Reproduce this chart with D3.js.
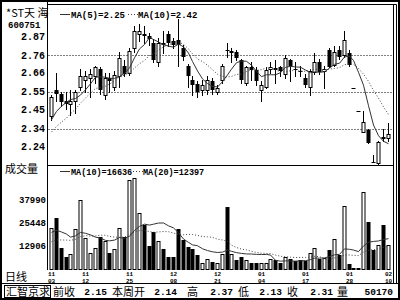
<!DOCTYPE html>
<html>
<head>
<meta charset="utf-8">
<script src="https://cdnjs.cloudflare.com/ajax/libs/d3/7.8.5/d3.min.js"></script>
<style>
body { margin: 0; background: #fff; }
svg { display: block; }
text { font-family: "Liberation Mono", "DejaVu Sans Mono", monospace; font-weight: bold; fill: #000; }
text.cjk { font-family: "Noto Sans CJK SC", sans-serif; font-weight: normal; }
</style>
</head>
<body>
<svg width="400" height="300"></svg>
<script>
var stockName = "*ST天 海";
var stockCode = "600751";

// daily candles
var opens  = [2.41,2.56,2.54,2.50,2.48,2.50,2.58,2.62,2.63,2.64,2.68,2.53,2.63,2.58,2.64,2.70,2.66,2.80,2.88,2.88,
              2.87,2.83,2.72,2.83,2.88,2.84,2.845,2.80,2.70,2.62,2.595,2.56,2.56,2.61,2.55,2.62,2.79,2.78,2.78,2.73,
              2.60,2.69,2.675,2.56,2.58,2.68,2.685,2.69,2.65,2.73,2.68,2.67,2.63,2.58,2.665,2.72,2.67,2.79,2.705,2.79,
              2.76,2.775,2.57,2.44,2.32,2.33,2.15,2.14,2.29,2.285];
var highs  = [2.53,2.66,2.55,2.55,2.56,2.56,2.68,2.67,2.68,2.70,2.69,2.66,2.66,2.67,2.78,2.73,2.80,2.93,2.94,2.93,
              2.89,2.85,2.86,2.90,2.90,2.86,2.97,2.82,2.71,2.64,2.61,2.62,2.64,2.63,2.59,2.71,2.83,2.80,2.79,2.74,
              2.70,2.72,2.69,2.61,2.69,2.72,2.73,2.70,2.76,2.74,2.72,2.70,2.65,2.68,2.77,2.74,2.70,2.80,2.81,2.81,
              2.90,2.79,2.57,2.44,2.44,2.34,2.19,2.27,2.34,2.37];
var lows   = [2.39,2.50,2.47,2.45,2.42,2.43,2.56,2.55,2.52,2.60,2.54,2.51,2.55,2.56,2.58,2.64,2.645,2.78,2.84,2.83,
              2.82,2.72,2.70,2.77,2.81,2.80,2.70,2.73,2.58,2.53,2.52,2.53,2.54,2.54,2.54,2.60,2.75,2.72,2.73,2.60,
              2.59,2.62,2.59,2.50,2.57,2.66,2.60,2.64,2.63,2.61,2.64,2.64,2.58,2.53,2.65,2.65,2.57,2.69,2.70,2.74,
              2.75,2.70,2.57,2.44,2.32,2.26,2.15,2.13,2.27,2.27];
var closes = [2.52,2.54,2.49,2.48,2.50,2.55,2.64,2.64,2.65,2.69,2.56,2.63,2.61,2.645,2.745,2.65,2.785,2.90,2.90,2.87,
              2.85,2.73,2.83,2.82,2.83,2.82,2.82,2.75,2.64,2.59,2.55,2.59,2.62,2.56,2.57,2.70,2.785,2.785,2.745,2.62,
              2.69,2.675,2.61,2.59,2.675,2.69,2.675,2.67,2.745,2.70,2.675,2.665,2.59,2.67,2.72,2.665,2.68,2.695,2.78,2.75,
              2.845,2.705,2.57,2.44,2.38,2.26,2.15,2.265,2.28,2.31];
var volumes = [22500,27600,11600,6800,8300,22000,37600,17200,9000,11800,17500,15200,9000,10800,22300,17500,48300,49200,30500,24100,
               12500,20000,15200,11100,6800,6800,21600,15700,12200,10800,7900,3600,5600,4200,3300,8600,33500,8300,5100,6500,
               5100,3300,3600,3600,3600,5400,5100,3600,6800,5600,4500,5100,4500,9000,11500,5600,6300,10500,16500,8080,
               34000,2800,600,600,42000,25690,10500,13000,24000,13170];
// days before the window, only used to seed the moving averages
var prevCloses = [2.22,2.24,2.25,2.26,2.28,2.30,2.34,2.37,2.42];
var prevVolumes = [9000,12000,8000,11000,10500,9500,7000,12500,10000,10500,
                   16000,21000,18000,25000,15000,19000,22000,17500,24000];

var tickIndex = [0,7,16,25,34,43,52,61,69];
var tickMonth = ["11","11","11","12","12","01","01","01","02"];
var tickDay   = ["03","12","25","08","21","04","17","28","10"];
var priceTicks = [2.24,2.34,2.45,2.55,2.66,2.76,2.87];
var priceGrid = [2.34,2.55,2.76];
var volTicks = [12906,25448,37990];

var summaryLabels = ["前收","本周开","高","低","收","量"];
var summaryValues = ["2.15","2.14","2.37","2.13","2.31","50170"];

var svg = d3.select("svg");
var n = closes.length;
var L = 47.5, R = 393.5;

var x = d3.scaleBand().domain(d3.range(n)).range([48.5, 390]);
function cx(i) { return Math.round(x(i) + x.bandwidth() / 2); }
var y = d3.scaleLinear().domain([2.24, 2.87]).range([146, 36]);
var vy = d3.scaleLinear().domain([0, 37990]).range([269.5, 199]);

function ma(vals, prev, k) {
    var all = prev.concat(vals);
    return vals.map(function(v, i) {
        var j = i + prev.length;
        return d3.mean(all.slice(j - k + 1, j + 1));
    });
}
var ma5 = ma(closes, prevCloses, 5);
var ma10 = ma(closes, prevCloses, 10);
var vma10 = ma(volumes, prevVolumes, 10);
var vma20 = ma(volumes, prevVolumes, 20);

function isDown(i) {
    if (closes[i] < opens[i]) return true;
    if (closes[i] > opens[i]) return false;
    var pc = i > 0 ? closes[i - 1] : prevCloses[prevCloses.length - 1];
    return closes[i] < pc;
}

// frame
svg.append("rect").attr("x", 1).attr("y", 1).attr("width", 398).attr("height", 298)
    .attr("fill", "none").attr("stroke", "#000").attr("stroke-width", 2);
svg.append("path").attr("d", "M" + L + ",4.5H396.5V283")
    .attr("fill", "none").attr("stroke", "#000");
svg.append("line").attr("x1", R).attr("x2", R).attr("y1", 4.5).attr("y2", 283).attr("stroke", "#000");
svg.append("line").attr("x1", L).attr("x2", L).attr("y1", 1).attr("y2", 270).attr("stroke", "#000");
svg.append("line").attr("x1", L).attr("x2", R).attr("y1", 165.5).attr("y2", 165.5).attr("stroke", "#000");
svg.append("line").attr("x1", 1).attr("x2", 399).attr("y1", 283.5).attr("y2", 283.5).attr("stroke", "#000");

// price grid
svg.append("g").selectAll("line").data(priceGrid).enter().append("line")
    .attr("x1", L + 1).attr("x2", R - 1)
    .attr("y1", function(d) { return Math.round(y(d)) + 0.5; })
    .attr("y2", function(d) { return Math.round(y(d)) + 0.5; })
    .attr("stroke", "#000").attr("stroke-dasharray", "1,2");

// price axis labels
svg.append("g").selectAll("text").data(priceTicks).enter().append("text")
    .attr("x", 45).attr("y", function(d) { return y(d) + 3.5; })
    .attr("text-anchor", "end").style("font-size", "10px")
    .text(function(d) { return d.toFixed(2); });

svg.append("text").attr("class", "cjk").attr("x", 6).attr("y", 17).style("font-size", "11px").text(stockName);
svg.append("text").attr("x", 8).attr("y", 28).style("font-size", "9px").text(stockCode);

// candles
var price = svg.append("g");
price.selectAll("line").data(d3.range(n)).enter().append("line")
    .attr("x1", function(i) { return cx(i) + 0.5; })
    .attr("x2", function(i) { return cx(i) + 0.5; })
    .attr("y1", function(i) { return Math.round(y(highs[i])); })
    .attr("y2", function(i) { return Math.round(y(lows[i])) + 1; })
    .attr("stroke", "#000");
price.selectAll("rect").data(d3.range(n)).enter().append("rect")
    .attr("x", function(i) { return isDown(i) ? cx(i) - 1.5 : cx(i) - 1; })
    .attr("y", function(i) {
        var t = Math.round(y(Math.max(opens[i], closes[i])));
        return isDown(i) ? t : t + 0.5;
    })
    .attr("width", function(i) { return isDown(i) ? 4 : 3; })
    .attr("height", function(i) {
        var h = Math.round(y(Math.min(opens[i], closes[i]))) - Math.round(y(Math.max(opens[i], closes[i])));
        return isDown(i) ? Math.max(1, h) : Math.max(0, h);
    })
    .attr("fill", function(i) { return isDown(i) ? "#000" : "#fff"; })
    .attr("stroke", function(i) { return isDown(i) ? "none" : "#000"; });

var line = d3.line().x(function(d, i) { return cx(i) + 0.5; });
svg.append("path").datum(ma10)
    .attr("d", line.y(function(d) { return y(d); }))
    .attr("fill", "none").attr("stroke", "#444").attr("stroke-dasharray", "1,2");
svg.append("path").datum(ma5)
    .attr("d", line.y(function(d) { return y(d); }))
    .attr("fill", "none").attr("stroke", "#333");

// price legend
svg.append("line").attr("x1", 60).attr("x2", 70).attr("y1", 14.5).attr("y2", 14.5).attr("stroke", "#333");
svg.append("text").attr("x", 71).attr("y", 18).style("font-size", "9px")
    .text("MA(5)=" + ma5[n - 1].toFixed(2));
svg.append("line").attr("x1", 128).attr("x2", 138).attr("y1", 14.5).attr("y2", 14.5)
    .attr("stroke", "#444").attr("stroke-dasharray", "1,2");
svg.append("text").attr("x", 138).attr("y", 18).style("font-size", "9px")
    .text("MA(10)=" + ma10[n - 1].toFixed(2));

// volume panel
svg.append("text").attr("class", "cjk").attr("x", 5).attr("y", 173).style("font-size", "11px").text("成交量");
svg.append("g").selectAll("text").data(volTicks).enter().append("text")
    .attr("x", 46).attr("y", function(d) { return vy(d) + 3.5; })
    .attr("text-anchor", "end").style("font-size", "9px")
    .text(function(d) { return d; });

svg.append("g").selectAll("rect").data(d3.range(n)).enter().append("rect")
    .attr("x", function(i) { return isDown(i) ? cx(i) - 1.5 : cx(i) - 1; })
    .attr("y", function(i) { return Math.round(vy(volumes[i])) + (isDown(i) ? 0 : 0.5); })
    .attr("width", function(i) { return isDown(i) ? 4 : 3; })
    .attr("height", function(i) { return Math.max(1, 270 - Math.round(vy(volumes[i])) - (isDown(i) ? 0 : 1)); })
    .attr("fill", function(i) { return isDown(i) ? "#000" : "#fff"; })
    .attr("stroke", function(i) { return isDown(i) ? "none" : "#000"; });

svg.append("path").datum(vma20)
    .attr("d", line.y(function(d) { return vy(d); }))
    .attr("fill", "none").attr("stroke", "#444").attr("stroke-dasharray", "1,2");
svg.append("path").datum(vma10)
    .attr("d", line.y(function(d) { return vy(d); }))
    .attr("fill", "none").attr("stroke", "#333");

svg.append("line").attr("x1", 60).attr("x2", 70).attr("y1", 171.5).attr("y2", 171.5).attr("stroke", "#333");
svg.append("text").attr("x", 71).attr("y", 175).style("font-size", "8.5px")
    .text("MA(10)=" + Math.round(vma10[n - 1]));
svg.append("line").attr("x1", 133).attr("x2", 143).attr("y1", 171.5).attr("y2", 171.5)
    .attr("stroke", "#444").attr("stroke-dasharray", "1,2");
svg.append("text").attr("x", 143).attr("y", 175).style("font-size", "8.5px")
    .text("MA(20)=" + Math.round(vma20[n - 1]));

// date axis
svg.append("text").attr("class", "cjk").attr("x", 5).attr("y", 281).style("font-size", "11px").text("日线");
var ticks = svg.append("g").selectAll("g").data(tickIndex).enter().append("g")
    .attr("transform", function(d) { return "translate(" + (cx(d) + 0.5) + ",0)"; });
ticks.append("text").attr("y", 275.5).attr("text-anchor", "middle").style("font-size", "6px")
    .text(function(d, i) { return tickMonth[i]; });
ticks.append("text").attr("y", 282.5).attr("text-anchor", "middle").style("font-size", "6px")
    .text(function(d, i) { return tickDay[i]; });

// bottom summary bar
svg.append("rect").attr("x", 4.5).attr("y", 285.5).attr("width", 46).attr("height", 12)
    .attr("fill", "none").attr("stroke", "#000");
svg.append("text").attr("class", "cjk").attr("x", 6).attr("y", 296).style("font-size", "11px").text("汇智京求");
var labelX = [53, 112, 187, 238, 287, 337];
var valueX = [107, 177, 233, 282, 333, 393];
svg.append("g").selectAll("text").data(summaryLabels).enter().append("text")
    .attr("class", "cjk").attr("x", function(d, i) { return labelX[i]; }).attr("y", 296)
    .style("font-size", "11px").text(function(d) { return d; });
svg.append("g").selectAll("text").data(summaryValues).enter().append("text")
    .attr("x", function(d, i) { return valueX[i]; }).attr("y", 295).attr("text-anchor", "end")
    .style("font-size", "9.5px").text(function(d) { return d; });
</script>
</body>
</html>
